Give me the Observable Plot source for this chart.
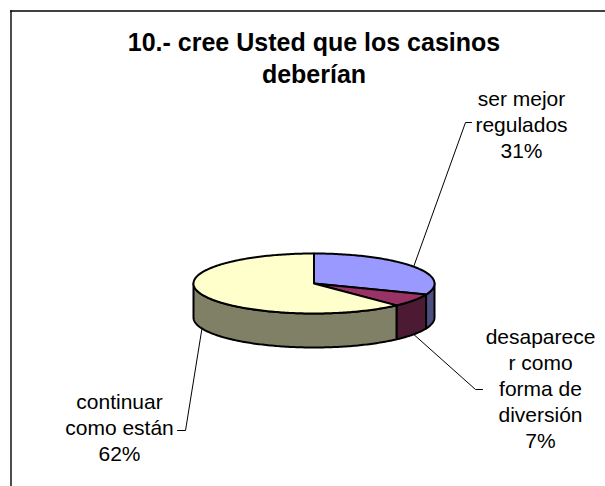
<!DOCTYPE html>
<html><head><meta charset="utf-8">
<script src="https://cdn.jsdelivr.net/npm/d3@7"></script>
<script src="https://cdn.jsdelivr.net/npm/@observablehq/plot@0.6"></script>
<style>body{margin:0;background:#fff}</style>
</head><body><div id="chart"></div>
<script>
// ---- data ----
const titleLines = ["10.- cree Usted que los casinos", "deberían"];
const categories = ["ser mejor\nregulados", "desaparece\nr como\nforma de\ndiversión", "continuar\ncomo están"];
const values = [31, 7, 62];
const topColors = ["#9999FF", "#993366", "#FFFFCC"];
const sideColors = ["#4D4D80", "#4D1A33", "#808066"];

// ---- layout ----
const W = 605, H = 486;
const pie = {cx: 313.5, cy: 283, rx: 120.5, ry: 30, depth: 34};
const labelLayout = [
  {x: 521, y: 157, elbow: [465, 122], end: [471, 122]},
  {x: 540, y: 447, elbow: [475, 389], end: [482, 389]},
  {x: 119, y: 460, elbow: [185, 430], end: [177, 430]}
];
const labelFont = 21, labelLine = 26;
const titleFont = 25, titleLine = 32;

const rad = d => d * Math.PI / 180;
const pt = (a, dz = 0) => ({x: pie.cx + pie.rx * Math.sin(rad(a)), y: pie.cy - pie.ry * Math.cos(rad(a)) + dz});
const arc = (a0, a1, dz = 0) => {
  const n = Math.max(2, Math.ceil(Math.abs(a1 - a0)));
  return d3.range(n + 1).map(i => pt(a0 + (a1 - a0) * i / n, dz));
};

const total = d3.sum(values);
let acc = 0;
const slices = values.map((v, i) => {
  const a0 = acc / total * 360; acc += v; const a1 = acc / total * 360;
  return {i, a0, a1, mid: (a0 + a1) / 2};
});

// walls (front visible portion: 90..270 degrees)
const walls = [];
slices.forEach(s => {
  const a = Math.max(s.a0, 90), b = Math.min(s.a1, 270);
  if (a < b) {
    const ring = [...arc(a, b, 0), ...arc(b, a, pie.depth)];
    ring.push(ring[0]);
    ring.forEach(p => walls.push({...p, id: "w" + s.i, fill: sideColors[s.i]}));
  }
});
// top wedges
const tops = [];
slices.forEach(s => {
  const c = {x: pie.cx, y: pie.cy};
  const ring = [c, ...arc(s.a0, s.a1, 0), c];
  ring.forEach(p => tops.push({...p, id: "t" + s.i, fill: topColors[s.i]}));
});
// leader lines
const leaders = [];
slices.forEach(s => {
  const front = s.mid > 90 && s.mid < 270;
  const start = pt(s.mid, front ? pie.depth : 0);
  const L = labelLayout[s.i];
  [start, {x: L.elbow[0], y: L.elbow[1]}, {x: L.end[0], y: L.end[1]}]
    .forEach(p => leaders.push({...p, id: s.i}));
});
const labels = slices.map(s => ({
  x: labelLayout[s.i].x, y: labelLayout[s.i].y,
  text: categories[s.i] + "\n" + values[s.i] + "%"
}));

const chart = Plot.plot({
  width: W, height: H, margin: 0,
  x: {domain: [0, W], range: [0, W], axis: null},
  y: {domain: [0, H], range: [0, H], axis: null},
  color: {type: "identity"},
  style: {background: "#fff", fontFamily: "'Liberation Sans', Arial, sans-serif", overflow: "hidden"},
  marks: [
    Plot.ruleX([10.5], {y1: () => 10.5, y2: () => H, stroke: "#000", strokeWidth: 1.4}),
    Plot.ruleY([10.5], {x1: () => 10, x2: () => W, stroke: "#000", strokeWidth: 1.4}),
    Plot.text([{t: titleLines.join("\n")}], {x: () => 313.5, y: () => 82, text: "t", fontSize: titleFont, fontWeight: "bold",
      lineAnchor: "bottom", lineHeight: titleLine / titleFont, textAnchor: "middle", fill: "#000"}),
    Plot.line(leaders, {x: "x", y: "y", z: "id", stroke: "#000", strokeWidth: 1}),
    Plot.line(walls, {x: "x", y: "y", z: "id", fill: "fill", stroke: "#000", strokeWidth: 2, strokeLinejoin: "round"}),
    Plot.line(tops, {x: "x", y: "y", z: "id", fill: "fill", stroke: "#000", strokeWidth: 2, strokeLinejoin: "round"}),
    Plot.text(labels, {x: "x", y: "y", text: "text", fontSize: labelFont, lineAnchor: "bottom",
      lineHeight: labelLine / labelFont, textAnchor: "middle", fill: "#000"})
  ]
});
document.getElementById("chart").appendChild(chart);
</script>
</body></html>
